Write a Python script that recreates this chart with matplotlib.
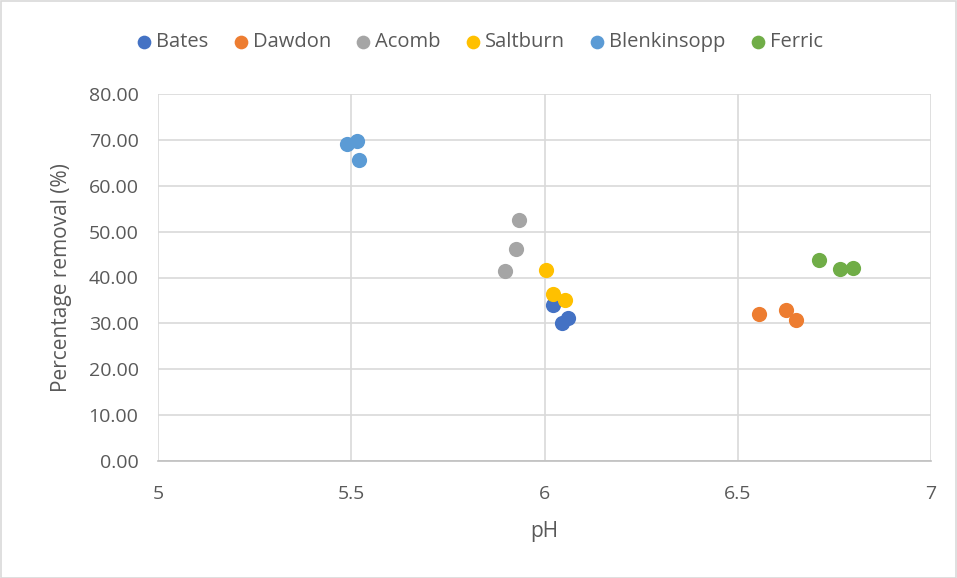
import matplotlib
matplotlib.use("Agg")
import matplotlib.pyplot as plt
from matplotlib.patches import Rectangle

plt.rcParams['font.family'] = ['Open Sans', 'DejaVu Sans']

series = ["Bates", "Dawdon", "Acomb", "Saltburn", "Blenkinsopp", "Ferric"]
colors = ["#4472C4", "#ED7D31", "#A5A5A5", "#FFC000", "#5B9BD5", "#70AD47"]
ph = {
    "Bates": [6.022, 6.045, 6.062],
    "Dawdon": [6.556, 6.626, 6.650],
    "Acomb": [5.933, 5.925, 5.899],
    "Saltburn": [6.005, 6.022, 6.054],
    "Blenkinsopp": [5.489, 5.515, 5.520],
    "Ferric": [6.709, 6.764, 6.797],
}
removal = {
    "Bates": [34.0, 30.0, 31.1],
    "Dawdon": [32.0, 33.0, 30.7],
    "Acomb": [52.5, 46.3, 41.5],
    "Saltburn": [41.6, 36.4, 35.0],
    "Blenkinsopp": [69.1, 69.8, 65.7],
    "Ferric": [43.8, 41.9, 42.1],
}
xticks = [5, 5.5, 6, 6.5, 7]
xticklabels = ["5", "5.5", "6", "6.5", "7"]
yticks = [0, 10, 20, 30, 40, 50, 60, 70, 80]

W, H = 957, 578
fig = plt.figure(figsize=(W / 100, H / 100), dpi=100)
ax = fig.add_axes([158 / W, 1 - 461 / H, (931 - 158) / W, (461 - 94) / H])

for name, c in zip(series, colors):
    ax.scatter(ph[name], removal[name], s=120, color=c, label=name, zorder=3, linewidths=0)

ax.set_xlim(5, 7)
ax.set_ylim(0, 80)
ax.set_xticks(xticks)
ax.set_xticklabels(xticklabels)
ax.set_yticks(yticks)
ax.set_yticklabels([f"{v:.2f}" for v in yticks])
ax.grid(True, color="#D9D9D9", linewidth=1.2, zorder=0)
ax.set_axisbelow(True)
for s in ["top", "right", "left"]:
    ax.spines[s].set_visible(False)
ax.spines["bottom"].set_color("#BFBFBF")
ax.spines["bottom"].set_linewidth(1.2)
ax.tick_params(axis="both", length=0, labelsize=14, colors="#595959")
ax.tick_params(axis="x", pad=17)
ax.tick_params(axis="y", pad=14)
ax.set_xlabel("pH", fontsize=15, color="#595959", labelpad=13)
ax.set_ylabel("Percentage removal (%)", fontsize=15, color="#595959", labelpad=12)

leg = fig.legend(loc="center", bbox_to_anchor=(0.5, 1 - 42 / H), ncol=6, frameon=False,
                 fontsize=14.5, handletextpad=0.1, columnspacing=1.1, markerscale=0.9,
                 handlelength=1.0)
for t in leg.get_texts():
    t.set_color("#595959")

fig.patches.append(Rectangle((0.5 / W, 0.5 / H), 1 - 1.5 / W, 1 - 1.5 / H, transform=fig.transFigure,
                             fill=False, edgecolor="#D9D9D9", linewidth=1.2))

fig.savefig("out.png", dpi=100, facecolor="white")
